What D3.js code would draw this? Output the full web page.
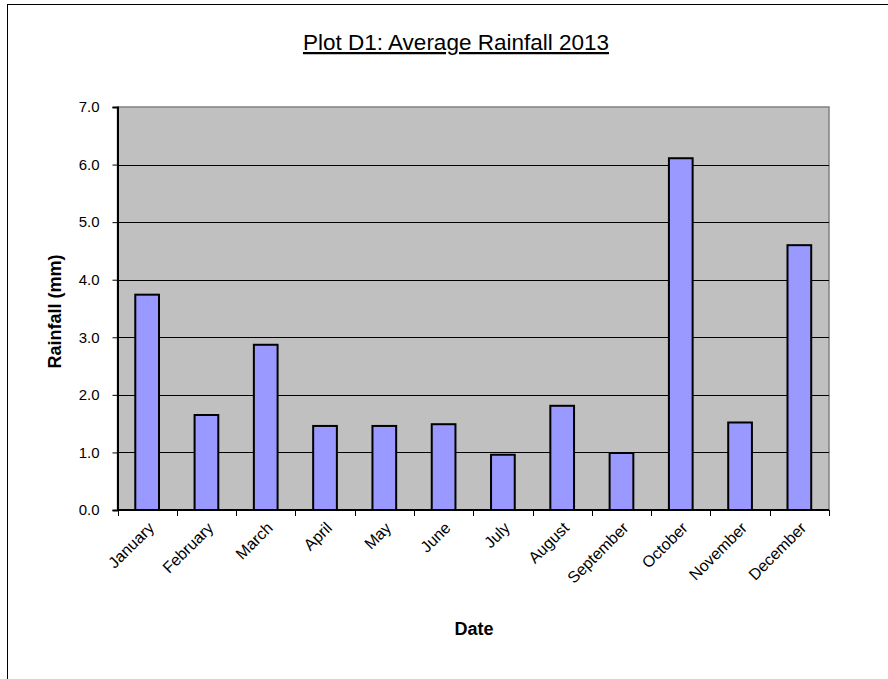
<!DOCTYPE html>
<html>
<head>
<meta charset="utf-8">
<script src="https://cdn.jsdelivr.net/npm/d3@7"></script>
<style>
  html, body { margin: 0; padding: 0; background: #fff; }
  svg { display: block; font-family: "Liberation Sans", Arial, sans-serif; }
</style>
</head>
<body>
<svg id="chart" width="888" height="679"></svg>
<script>
// Monthly average rainfall, 2013
const months = ["January", "February", "March", "April", "May", "June",
                "July", "August", "September", "October", "November", "December"];
const rainfall = [3.74, 1.65, 2.87, 1.46, 1.46, 1.49, 0.96, 1.81, 0.99, 6.11, 1.52, 4.60];
const yTicks = [0, 1, 2, 3, 4, 5, 6, 7];

const svg = d3.select("#chart");

// Outer chart frame
svg.append("rect")
  .attr("x", 7.5).attr("y", 4.5)
  .attr("width", 1000).attr("height", 1000)
  .attr("fill", "#fff").attr("stroke", "#000").attr("stroke-width", 1);

const plot = { left: 117.5, right: 829, top: 107, bottom: 510 };

const x = d3.scaleBand().domain(months).range([plot.left, plot.right]).paddingInner(0).paddingOuter(0);
const y = d3.scaleLinear().domain([0, 7]).range([plot.bottom, plot.top]);

// Plot area background
svg.append("rect")
  .attr("x", plot.left).attr("y", plot.top)
  .attr("width", plot.right - plot.left).attr("height", plot.bottom - plot.top)
  .attr("fill", "#c0c0c0").attr("stroke", "#808080").attr("stroke-width", 1.5);

// Horizontal gridlines
svg.append("g")
  .selectAll("line")
  .data(yTicks.filter(d => d > 0 && d < 7))
  .join("line")
  .attr("x1", plot.left).attr("x2", plot.right)
  .attr("y1", d => Math.round(y(d)) + 0.5).attr("y2", d => Math.round(y(d)) + 0.5)
  .attr("stroke", "#000").attr("stroke-width", 1);

// Y axis
const yAxis = d3.axisLeft(y)
  .tickValues(yTicks)
  .tickFormat(d3.format(".1f"))
  .tickSize(5)
  .tickPadding(13);
const gy = svg.append("g")
  .attr("transform", `translate(${plot.left},0)`)
  .call(yAxis);
gy.select(".domain").attr("stroke", "#000").attr("stroke-width", 2);
gy.selectAll(".tick line").attr("stroke", "#000");
gy.selectAll(".tick text")
  .attr("font-size", 15).attr("fill", "#000")
  .attr("font-family", "Liberation Sans, Arial, sans-serif");

// Bars
svg.append("g")
  .selectAll("rect")
  .data(months.map((m, i) => ({ month: m, value: rainfall[i] })))
  .join("rect")
  .attr("x", d => x(d.month) + x.bandwidth() * 0.3)
  .attr("width", x.bandwidth() * 0.4)
  .attr("y", d => y(d.value))
  .attr("height", d => y(0) - y(d.value))
  .attr("fill", "#9999ff")
  .attr("stroke", "#000")
  .attr("stroke-width", 2);

// X axis: ticks at category boundaries
const gx = svg.append("g");
gx.append("line")
  .attr("x1", plot.left).attr("x2", plot.right)
  .attr("y1", plot.bottom).attr("y2", plot.bottom)
  .attr("stroke", "#000").attr("stroke-width", 2);
const boundaries = months.map(m => x(m)).concat([plot.right]);
gx.selectAll("line.tick")
  .data(boundaries)
  .join("line")
  .attr("class", "tick")
  .attr("x1", d => Math.round(d) + 0.5).attr("x2", d => Math.round(d) + 0.5)
  .attr("y1", plot.bottom).attr("y2", plot.bottom + 6)
  .attr("stroke", "#000").attr("stroke-width", 1);

// Rotated month labels
gx.selectAll("text")
  .data(months)
  .join("text")
  .attr("transform", d => `translate(${x(d) + x.bandwidth() / 2 + 4},${plot.bottom + 15}) rotate(-45)`)
  .attr("text-anchor", "end")
  .attr("dy", "0.35em")
  .attr("font-size", 16)
  .attr("fill", "#000")
  .text(d => d);

// Title
svg.append("text")
  .attr("x", 456).attr("y", 50)
  .attr("text-anchor", "middle")
  .attr("font-size", 22.5)
  .attr("text-decoration", "underline")
  .attr("fill", "#000")
  .text("Plot D1: Average Rainfall 2013");

// Axis titles
svg.append("text")
  .attr("transform", `translate(61,${(plot.top + plot.bottom) / 2 + 3}) rotate(-90)`)
  .attr("text-anchor", "middle")
  .attr("font-size", 18)
  .attr("font-weight", "bold")
  .attr("fill", "#000")
  .text("Rainfall (mm)");

svg.append("text")
  .attr("x", 474).attr("y", 635)
  .attr("text-anchor", "middle")
  .attr("font-size", 18)
  .attr("font-weight", "bold")
  .attr("fill", "#000")
  .text("Date");
</script>
</body>
</html>
